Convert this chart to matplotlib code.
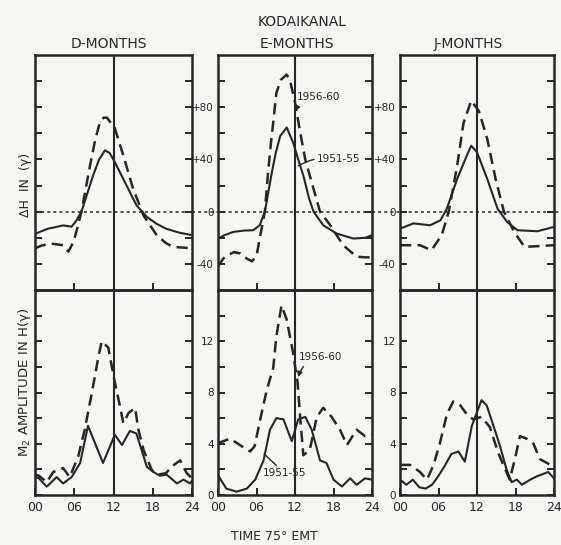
import matplotlib.pyplot as plt

# Kodaikanal, Delta H (gamma) vs time 75E EMT, 1951-55 (solid) and 1956-60 (dashed)
t_dh_d_a = [0, 1, 2, 3, 4.3, 5.6, 6.3, 7.1, 8, 8.9, 9.8, 10.7, 11.4, 12.2, 13, 14, 15.5, 17.1, 18.5, 20, 22, 24]
dh_d_a = [-17, -15, -13, -12, -10.5, -11.5, -7, 0, 14, 28, 40, 47, 45, 38, 30, 20, 5, -4, -9, -13, -16, -18]
t_dh_d_b = [0, 1, 2.3, 3.3, 4.3, 5.1, 5.9, 6.5, 7.1, 8.4, 9.2, 9.9, 10.5, 11, 12.2, 13.5, 15, 16.6, 18.6, 20, 21.1, 24]
dh_d_b = [-28, -26, -24.4, -25, -25.7, -30.6, -23, -12, 0, 35, 55, 68, 72, 72, 64, 43, 17.5, -3, -18, -24, -27, -28]

t_dh_e_a = [0, 1, 2.4, 4, 5.5, 6.5, 7.3, 8.3, 9, 9.7, 10.7, 11.7, 12.5, 13.3, 14.2, 14.9, 16.4, 18.5, 21.1, 23, 24]
dh_e_a = [-20.6, -18, -15.5, -14.5, -14.2, -10.4, 0, 27.7, 45, 58, 64.5, 53, 40, 27.7, 10, 0, -10.4, -16.8, -20.6, -20, -18]
t_dh_e_b = [0, 0.8, 1.6, 2.5, 3.5, 4.5, 5.3, 6.0, 6.6, 7.3, 7.8, 8.2, 9.1, 9.8, 10.7, 11.2, 12, 12.8, 13.6, 14.3, 15.9, 17.5, 19.5, 21.6, 23, 24]
dh_e_b = [-42, -36, -33, -31, -32, -36, -38, -34, -18, 0, 30, 50, 91, 101, 105, 101, 84, 61, 40, 27.7, 0, -10.4, -25.7, -34.5, -35, -35]

t_dh_j_a = [0, 2.1, 4.7, 6.3, 7.3, 8.9, 10.5, 11.1, 12.0, 13.6, 15.2, 16.7, 18.3, 21.4, 24]
dh_j_a = [-13, -9, -10.4, -6.6, 2.3, 25, 44, 50.5, 45.5, 25, 2.3, -7.9, -14.2, -15, -11.7]
t_dh_j_b = [0, 3.1, 4.9, 6.5, 7.6, 8.9, 9.9, 11.1, 12.3, 13.6, 14.9, 16.2, 17.8, 19.4, 24]
dh_j_b = [-25.7, -25.7, -29.5, -18, 0, 35, 68, 85, 77, 55.6, 25, 0, -15.5, -27, -25.7]

# M2 amplitude in H (gamma)
t_m2_d_a = [0, 0.6, 1.8, 3.3, 4.3, 5.6, 6.9, 8.1, 10.4, 12.2, 13.3, 14.5, 15.5, 17.1, 18.1, 19.1, 20.1, 21.7, 22.7, 23.7, 24]
m2_d_a = [1.4, 1.3, 0.65, 1.4, 0.9, 1.4, 2.5, 5.4, 2.5, 4.7, 3.9, 5.0, 4.8, 2.2, 1.8, 1.5, 1.6, 0.9, 1.2, 0.9, 1.1]
t_m2_d_b = [0, 0.6, 1.8, 2.8, 4.3, 5.3, 6.6, 7.6, 8.7, 9.7, 10.2, 11.2, 12.2, 13, 13.5, 14.3, 15.3, 15.8, 16.6, 17.9, 18.9, 20, 21.1, 22.2, 23.2, 24]
m2_d_b = [1.6, 1.5, 1.0, 1.8, 2.1, 1.4, 3.0, 5.1, 8.0, 10.8, 12.0, 11.5, 8.8, 6.9, 5.6, 6.4, 6.8, 5.1, 3.5, 1.9, 1.6, 1.7, 2.3, 2.7, 1.7, 1.3]

t_m2_e_a = [0, 0.3, 1.3, 2.9, 4.5, 5.8, 7.1, 8.1, 9.1, 10.2, 11.5, 12.5, 13.6, 14.6, 15.9, 16.9, 18.0, 19.3, 20.6, 21.6, 22.9, 24]
m2_e_a = [1.6, 1.3, 0.5, 0.26, 0.5, 1.2, 2.7, 5.1, 6.0, 5.9, 4.2, 5.9, 6.1, 5.1, 2.7, 2.5, 1.2, 0.66, 1.3, 0.8, 1.3, 1.2]
t_m2_e_b = [0, 0.3, 1.9, 3.4, 5.0, 5.7, 6.8, 7.6, 8.6, 9.1, 9.9, 10.7, 11.7, 12.4, 12.8, 13.3, 14.3, 15.4, 16.4, 17.7, 19.0, 20.1, 21.6, 22.9, 24]
m2_e_b = [4.0, 4.1, 4.4, 3.9, 3.4, 3.8, 6.4, 8.2, 9.9, 12.4, 14.8, 13.7, 11.1, 8.8, 6.1, 3.1, 3.5, 6.1, 6.8, 6.1, 5.1, 3.9, 5.1, 4.6, 4.7]

t_m2_j_a = [0, 1, 2, 3, 4, 5, 6, 7, 8, 9.1, 10.1, 11.2, 12.7, 13.5, 14.5, 15.6, 16.6, 17.4, 18.2, 19, 20.3, 21.3, 22.1, 23.1, 24]
m2_j_a = [1.2, 0.8, 1.2, 0.6, 0.5, 0.8, 1.5, 2.3, 3.2, 3.4, 2.6, 5.4, 7.4, 7.0, 5.5, 3.8, 2.0, 1.0, 1.2, 0.8, 1.2, 1.45, 1.6, 1.8, 1.3]
t_m2_j_b = [0, 1.6, 3.1, 4.2, 5.2, 6.2, 7.3, 8.3, 9.4, 10.4, 11.4, 12.7, 14, 15.3, 16.4, 17.1, 17.9, 18.7, 19.7, 20.8, 21.8, 22.9, 24]
m2_j_b = [2.35, 2.35, 1.8, 1.2, 2.3, 4.0, 6.3, 7.3, 7.0, 6.3, 5.9, 6.1, 5.3, 3.3, 2.0, 1.2, 2.8, 4.6, 4.4, 4.0, 2.8, 2.5, 2.2]

titles = ["D-MONTHS", "E-MONTHS", "J-MONTHS"]
x_labels = ["00", "06", "12", "18", "24"]

ink = "#262626"
paper = "#f6f6f2"
dash = (0, (4.5, 2.5))

W, H = 561, 545
fig = plt.figure(figsize=(W / 100, H / 100), dpi=100, facecolor=paper)


def box(x0, y0, x1, y1):
    # pixel box (top-left origin) -> figure fraction
    return [x0 / W, 1 - y1 / H, (x1 - x0) / W, (y1 - y0) / H]


cols = [(35, 192), (218, 372), (400, 554)]
top_axes, bot_axes = [], []
for x0, x1 in cols:
    top_axes.append(fig.add_axes(box(x0, 55, x1, 290)))
    bot_axes.append(fig.add_axes(box(x0, 290, x1, 495)))

dh_data = [(t_dh_d_a, dh_d_a, t_dh_d_b, dh_d_b),
           (t_dh_e_a, dh_e_a, t_dh_e_b, dh_e_b),
           (t_dh_j_a, dh_j_a, t_dh_j_b, dh_j_b)]
m2_data = [(t_m2_d_a, m2_d_a, t_m2_d_b, m2_d_b),
           (t_m2_e_a, m2_e_a, t_m2_e_b, m2_e_b),
           (t_m2_j_a, m2_j_a, t_m2_j_b, m2_j_b)]

zero_span = [(0, 1), (-0.17, 1), (-0.18, 1.05)]

for i, ax in enumerate(top_axes):
    ta, ya, tb, yb = dh_data[i]
    ax.plot(ta, ya, color=ink, lw=1.5)
    ax.plot(tb, yb, color=ink, lw=1.8, ls=dash)
    ax.axhline(0, xmin=zero_span[i][0], xmax=zero_span[i][1], color=ink, lw=1.1,
               ls=(0, (2, 2)), clip_on=False)
    ax.set_ylim(-60, 120)
    ax.set_yticks(range(-40, 120, 20))
    if i == 0:
        ax.set_yticklabels([])
    else:
        ax.set_yticklabels([{-40: "-40", 0: "0", 40: "+40", 80: "+80"}.get(v, "")
                            for v in range(-40, 120, 20)])
    ax.set_xticks([6, 18])
    ax.set_xticklabels([])

for i, ax in enumerate(bot_axes):
    ta, ya, tb, yb = m2_data[i]
    ax.plot(ta, ya, color=ink, lw=1.5)
    ax.plot(tb, yb, color=ink, lw=1.8, ls=dash)
    ax.set_ylim(0, 16)
    ax.set_yticks(range(0, 16, 2))
    if i == 0:
        ax.set_yticklabels([])
    else:
        ax.set_yticklabels([str(v) if v % 4 == 0 else "" for v in range(0, 16, 2)])
    ax.set_xticks([0, 6, 12, 18, 24])
    ax.set_xticklabels(x_labels)

for ax in top_axes + bot_axes:
    ax.set_facecolor("none")
    ax.set_xlim(0, 24)
    ax.axvline(12, color=ink, lw=1.5)
    for s in ax.spines.values():
        s.set_color(ink)
        s.set_linewidth(1.8)
    ax.tick_params(direction="in", length=5, width=1.4, color=ink, labelcolor=ink,
                   left=True, right=True, top=False, bottom=True, pad=3)
    ax.tick_params(axis="y", labelsize=7.5)
    ax.tick_params(axis="x", labelsize=9, pad=4)

# annotations in E-months panels
top_axes[1].annotate("1956-60", xy=(12.0, 77), xytext=(12.3, 88), fontsize=7.5, color=ink,
                     va="center", arrowprops=dict(arrowstyle="-|>", color=ink, lw=1,
                                                  connectionstyle="arc3,rad=0.3", shrinkA=2, shrinkB=0))
top_axes[1].annotate("1951-55", xy=(12.5, 35), xytext=(15.4, 40), fontsize=7.5, color=ink,
                     va="center", arrowprops=dict(arrowstyle="-", color=ink, lw=1,
                                                  connectionstyle="arc3,rad=0.2", shrinkA=0, shrinkB=0))
bot_axes[1].annotate("1956-60", xy=(12.5, 9.2), xytext=(12.6, 10.8), fontsize=7.5, color=ink,
                     va="center", arrowprops=dict(arrowstyle="-|>", color=ink, lw=1,
                                                  connectionstyle="arc3,rad=0.3", shrinkA=2, shrinkB=0))
bot_axes[1].annotate("1951-55", xy=(7.2, 3.2), xytext=(7.0, 1.7), fontsize=7.5, color=ink,
                     va="center", arrowprops=dict(arrowstyle="-", color=ink, lw=1,
                                                  shrinkA=0, shrinkB=0))

fig.text(302 / W, 1 - 22 / H, "KODAIKANAL", ha="center", va="center", fontsize=10, color=ink)
for x, title in zip([109, 297, 468], titles):
    fig.text(x / W, 1 - 44 / H, title, ha="center", va="center", fontsize=10, color=ink)
fig.text(25 / W, 1 - 185 / H, "ΔH  IN  (γ)", rotation=90, ha="center", va="center",
         fontsize=9, color=ink)
fig.text(25 / W, 1 - 382 / H, "M$_2$ AMPLITUDE IN H(γ)", rotation=90, ha="center",
         va="center", fontsize=9.5, color=ink)
fig.text(274 / W, 1 - 536 / H, "TIME 75° EMT", ha="center", va="center", fontsize=9, color=ink)

fig.savefig("out.png", dpi=100, facecolor=paper)
